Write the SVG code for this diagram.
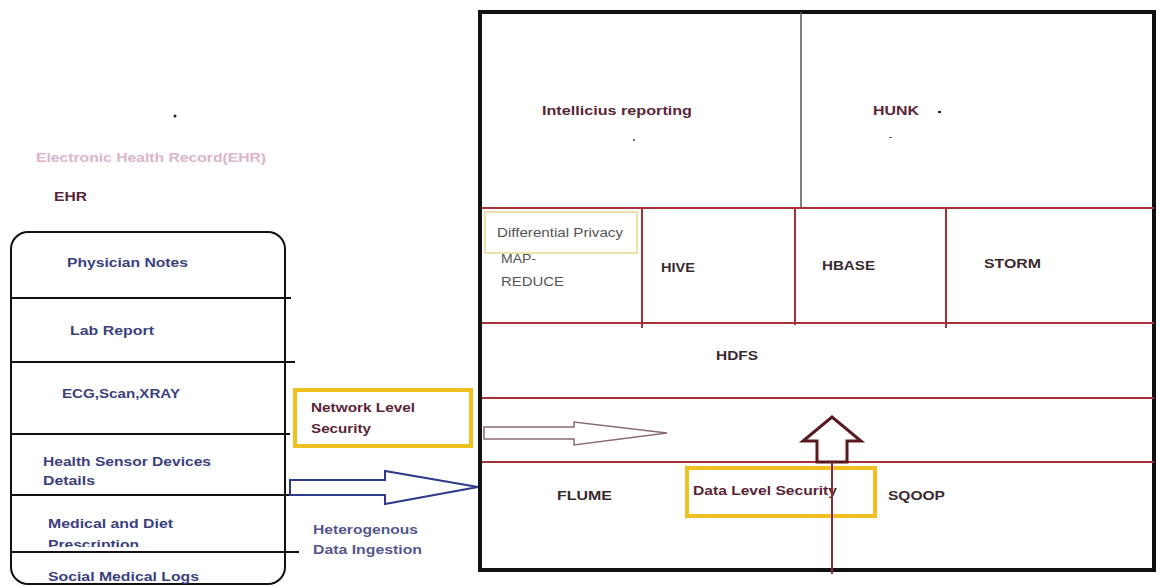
<svg xmlns="http://www.w3.org/2000/svg" width="1160" height="586" viewBox="0 0 1160 586">
<style>
text{font-family:"Liberation Sans",Arial,sans-serif;font-size:13px}
.b{font-weight:bold}
.nv{fill:#3b3f7e;font-weight:bold}
.mr{fill:#5a2535;font-weight:bold}
.dk{fill:#3a2a30;font-weight:bold}
.gr{fill:#555}
.red{stroke:#a8303a;stroke-width:2;fill:none}
.blk{stroke:#111;stroke-width:2;fill:none}
.yel{stroke:#f0c020;stroke-width:4;fill:none}
</style>
<defs><clipPath id="cp"><rect x="0" y="500" width="300" height="47"/></clipPath></defs>
<rect width="1160" height="586" fill="#fff"/>
<g id="ehr-title">
<circle cx="175" cy="116" r="1.5" fill="#222"/>
<text x="36" y="162" class="b" fill="#dbb4cc" textLength="230" lengthAdjust="spacingAndGlyphs">Electronic Health Record(EHR)</text>
<text x="54" y="201" class="mr" textLength="33" lengthAdjust="spacingAndGlyphs">EHR</text>
</g>
<g id="ehr-box">
<rect x="11" y="232" width="274" height="352" rx="17" class="blk"/>
<line x1="11" y1="298" x2="291" y2="298" class="blk"/>
<line x1="11" y1="362" x2="295" y2="362" class="blk"/>
<line x1="11" y1="434" x2="290" y2="434" class="blk"/>
<line x1="11" y1="495" x2="290" y2="495" class="blk"/>
<line x1="11" y1="552" x2="299" y2="552" class="blk"/>
<text x="67" y="267" class="nv" textLength="121" lengthAdjust="spacingAndGlyphs">Physician Notes</text>
<text x="70" y="335" class="nv" textLength="84" lengthAdjust="spacingAndGlyphs">Lab Report</text>
<text x="62" y="398" class="nv" textLength="118" lengthAdjust="spacingAndGlyphs">ECG,Scan,XRAY</text>
<text x="43" y="466" class="nv" textLength="168" lengthAdjust="spacingAndGlyphs">Health Sensor Devices</text>
<text x="43" y="485" class="nv" textLength="52" lengthAdjust="spacingAndGlyphs">Details</text>
<text x="48" y="528" class="nv" textLength="125" lengthAdjust="spacingAndGlyphs">Medical and Diet</text>
<text x="48" y="549" class="nv" clip-path="url(#cp)" textLength="91" lengthAdjust="spacingAndGlyphs">Prescription</text>
<text x="48" y="581" class="nv" textLength="151" lengthAdjust="spacingAndGlyphs">Social Medical Logs</text>
</g>
<g id="network-security">
<rect x="295" y="390" width="176" height="56" class="yel"/>
<text x="311" y="412" class="mr" textLength="104" lengthAdjust="spacingAndGlyphs">Network Level</text>
<text x="311" y="433" class="mr" textLength="60" lengthAdjust="spacingAndGlyphs">Security</text>
</g>
<g id="ingestion-label">
<text x="313" y="534" class="nv" fill-opacity="0.9" textLength="105" lengthAdjust="spacingAndGlyphs">Heterogenous</text>
<text x="313" y="554" class="nv" fill-opacity="0.9" textLength="109" lengthAdjust="spacingAndGlyphs">Data Ingestion</text>
</g>
<g id="hadoop-box">
<rect x="480" y="12" width="674" height="558" fill="none" stroke="#111" stroke-width="4"/>
<line x1="801" y1="12" x2="801" y2="208" stroke="#555" stroke-width="1.5"/>
<line x1="482" y1="208" x2="1154" y2="208" class="red"/>
<line x1="642" y1="208" x2="642" y2="328" class="red"/>
<line x1="795" y1="208" x2="795" y2="325" class="red"/>
<line x1="946" y1="208" x2="946" y2="328" class="red"/>
<line x1="482" y1="323" x2="1154" y2="323" class="red"/>
<line x1="482" y1="398" x2="1154" y2="398" class="red"/>
<line x1="482" y1="462" x2="1154" y2="462" class="red"/>
</g>
<g id="reporting">
<text x="542" y="115" class="mr" textLength="150" lengthAdjust="spacingAndGlyphs">Intellicius reporting</text>
<circle cx="634" cy="140" r="1" fill="#444"/>
<text x="873" y="115" class="mr" textLength="46" lengthAdjust="spacingAndGlyphs">HUNK</text>
<rect x="938" y="111" width="3" height="2" fill="#222"/>
<rect x="889" y="137" width="3" height="1" fill="#666"/>
</g>
<g id="differential-privacy">
<rect x="485" y="212" width="152" height="41" fill="#fff" stroke="#ece3a8" stroke-width="2"/>
<text x="497" y="237" class="gr" textLength="126" lengthAdjust="spacingAndGlyphs">Differential Privacy</text>
</g>
<g id="mapreduce">
<text x="501" y="263" class="gr" textLength="35" lengthAdjust="spacingAndGlyphs">MAP-</text>
<text x="501" y="286" class="gr" textLength="63" lengthAdjust="spacingAndGlyphs">REDUCE</text>
</g>
<g id="hive"><text x="661" y="272" class="dk" textLength="34" lengthAdjust="spacingAndGlyphs">HIVE</text></g>
<g id="hbase"><text x="822" y="270" class="dk" textLength="53" lengthAdjust="spacingAndGlyphs">HBASE</text></g>
<g id="storm"><text x="984" y="268" class="dk" textLength="57" lengthAdjust="spacingAndGlyphs">STORM</text></g>
<g id="hdfs"><text x="716" y="360" class="dk" textLength="42" lengthAdjust="spacingAndGlyphs">HDFS</text></g>
<g id="flume"><text x="557" y="500" class="dk" textLength="55" lengthAdjust="spacingAndGlyphs">FLUME</text></g>
<g id="sqoop"><text x="888" y="500" class="dk" textLength="57" lengthAdjust="spacingAndGlyphs">SQOOP</text></g>
<g id="data-security">
<rect x="687" y="468" width="188" height="48" class="yel"/>
<text x="693" y="495" class="mr" textLength="144" lengthAdjust="spacingAndGlyphs">Data Level Security</text>
</g>
<g id="connectors">
<polygon points="484,427 574,427 574,422 667,433 574,445 574,439 484,439" fill="#fff" stroke="#8a6a70" stroke-width="1.5"/>
<polygon points="817,462 817,441 803,441 832,417 861,441 847,441 847,462" fill="#fff" stroke="#5a1a22" stroke-width="3"/>
<line x1="832" y1="462" x2="832" y2="574" stroke="#8a2a35" stroke-width="2"/>
<polygon points="290,480 385,480 385,471 478,487 385,504 385,495 290,495" fill="#fff" stroke="#2e3a8c" stroke-width="2"/>
</g>
</svg>
